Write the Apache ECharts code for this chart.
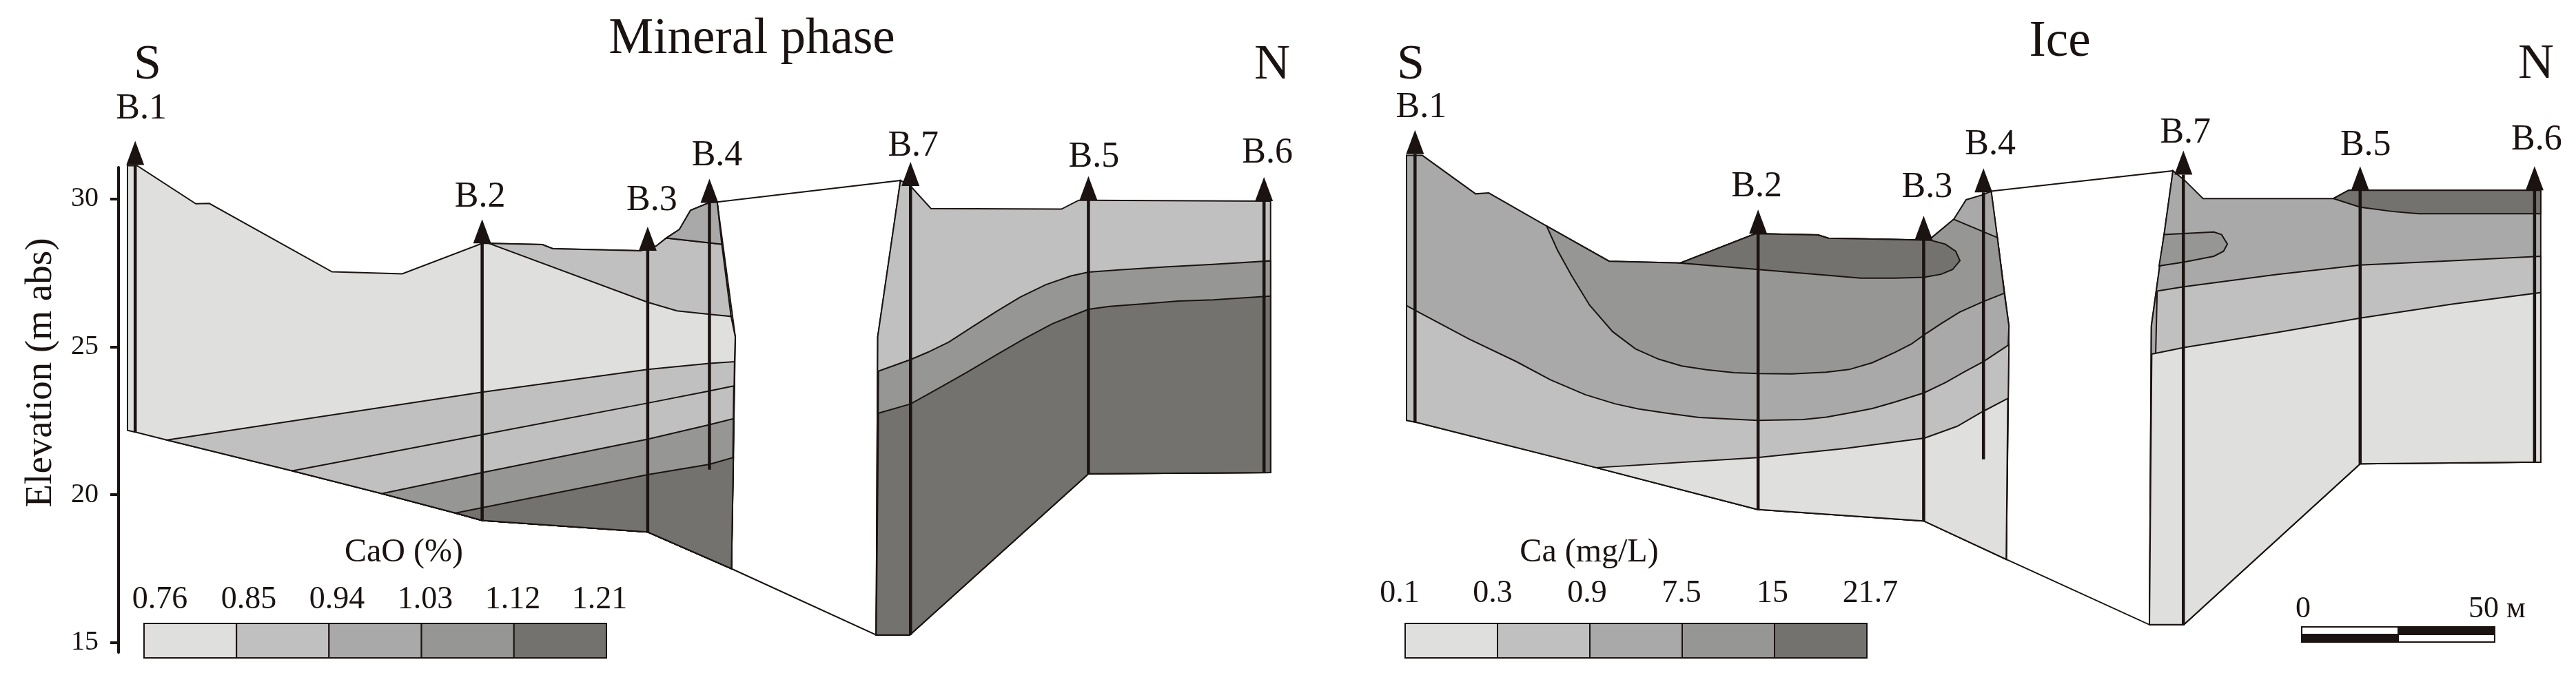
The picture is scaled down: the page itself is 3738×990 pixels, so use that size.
<!DOCTYPE html>
<html>
<head>
<meta charset="utf-8">
<title>Mineral phase / Ice</title>
<style>
  html, body { margin: 0; padding: 0; background: #fff; }
  #main { width: 3738px; height: 990px; }
</style>
<script src="https://cdn.jsdelivr.net/npm/echarts@6/dist/echarts.min.js"></script>
</head>
<body>
<div id="main"></div>
<script>
// all points are [distance along the section in m, elevation in m abs]
const yTicks = [15, 20, 25, 30];
const cao_ticks = ['0.76', '0.85', '0.94', '1.03', '1.12', '1.21'];
const ca_ticks = ['0.1', '0.3', '0.9', '7.5', '15', '21.7'];

// boreholes: name, distance, top, bottom
const boreholesMineral = [
  ['B.1', 2.0, 31.15, 22.10], ['B.2', 91.9, 28.50, 19.13], ['B.3', 134.8, 28.25, 18.74], ['B.4', 150.8, 29.87, 20.85],
  ['B.7', 202.9, 30.44, 15.26], ['B.5', 249.0, 29.96, 20.71], ['B.6', 294.5, 29.93, 20.75]
];
const boreholesIce = [
  ['B.1', 2.2, 31.19, 22.12], ['B.2', 91.1, 28.50, 19.18], ['B.3', 134.0, 28.29, 18.79], ['B.4', 149.5, 29.90, 20.87],
  ['B.7', 201.3, 30.50, 15.28], ['B.5', 247.1, 29.97, 20.72], ['B.6', 292.3, 29.97, 20.78]
];

// ---- Mineral phase, south block ----
const minS_surface = [[0, 31.13], [2.5, 31.13], [17.7, 29.84], [21.2, 29.85], [53.0, 27.54], [71.2, 27.47], [91.9, 28.50], [93.7, 28.50],
  [107.5, 28.46], [110.2, 28.32], [133.0, 28.25], [137.0, 28.41], [139.6, 28.68], [143.0, 28.97], [145.9, 29.62], [150.8, 29.88], [152.8, 29.90]];
const minS_edge = [[154.0, 28.47], [156.4, 26.03], [157.5, 25.34], [157.3, 24.50], [157.0, 21.26], [156.5, 17.50]];
const minS_bottom = [[0, 22.18], [2.6, 22.10], [10.2, 21.85], [42.7, 20.81], [65.9, 20.04], [85.0, 19.38], [91.9, 19.13], [134.8, 18.74], [156.5, 17.50]];
const minS_085top = [[93.7, 28.50], [107.5, 28.46], [110.2, 28.32], [133.0, 28.25], [137.0, 28.41], [139.6, 28.68], [154.0, 28.47]];
const minS_085base = [[93.7, 28.50], [134.8, 26.51], [142.4, 26.22], [150.8, 26.10], [156.4, 26.03]];
const minS_tip = [[139.6, 28.68], [143.0, 28.97], [145.9, 29.62], [150.8, 29.88], [152.8, 29.90], [154.0, 28.47]];
const minS_L1 = [[10.2, 21.85], [91.9, 23.47], [134.8, 24.24], [150.8, 24.44], [157.3, 24.50]];
const minS_L2 = [[42.7, 20.81], [91.9, 22.03], [134.8, 23.10], [150.8, 23.51], [157.1, 23.68]];
const minS_L3 = [[65.9, 20.04], [91.9, 20.75], [134.8, 21.88], [150.8, 22.37], [157.0, 22.57]];
const minS_L4 = [[85.0, 19.38], [91.9, 19.56], [134.8, 20.68], [150.8, 21.03], [157.0, 21.26]];

// ---- Mineral phase, north block ----
const minN_outline = [[200.3, 30.63], [202.9, 30.44], [208.2, 29.68], [242.0, 29.66], [246.5, 29.96], [249.0, 29.96], [296.2, 29.93],
  [296.2, 20.75], [249.0, 20.71], [202.7, 15.26], [194.0, 15.26], [194.4, 25.34]];
const minN_bottom = [[194.0, 15.26], [202.7, 15.26], [249.0, 20.71], [296.2, 20.75]];
const minN_U1 = [[194.6, 24.18], [202.9, 24.57], [207.4, 24.82], [212.8, 25.16], [218.8, 25.67], [225.3, 26.21], [231.3, 26.68], [237.9, 27.10], [244.5, 27.40], [249.0, 27.53],
  [257.6, 27.61], [269.5, 27.71], [281.3, 27.79], [296.2, 27.91]];
const minN_U2 = [[194.6, 22.76], [202.9, 23.07], [209.8, 23.57], [217.6, 24.15], [225.3, 24.74], [232.4, 25.28], [239.6, 25.78], [245.5, 26.09], [249.0, 26.27], [254.5, 26.37],
  [263.4, 26.46], [272.3, 26.55], [281.3, 26.59], [296.2, 26.72]];
const minGap = [[152.8, 29.90], [200.3, 30.63], [194.4, 25.34], [194.0, 15.26], [156.5, 17.50], [157.5, 25.34]];

// ---- Ice, south block ----
const iceS_surface = [[0, 31.15], [4.1, 31.15], [17.9, 29.85], [21.3, 29.88], [36.3, 28.76], [52.5, 27.57], [70.9, 27.51], [90.4, 28.50], [106.6, 28.46],
  [109.3, 28.35], [132.0, 28.29], [135.8, 28.34], [141.8, 28.99], [145.0, 29.65], [149.4, 29.82], [151.5, 29.94]];
const iceS_edge = [[153.1, 28.37], [154.9, 26.49], [156.1, 25.38], [155.9, 24.72], [155.7, 22.93], [155.4, 17.49]];
const iceS_bottom = [[0, 22.19], [2.7, 22.12], [49.2, 20.59], [90.9, 19.18], [134.0, 18.79], [155.4, 17.49]];
const iceS_band4top = [[36.3, 28.76], [52.5, 27.57], [70.9, 27.51], [90.4, 28.50], [106.6, 28.46], [109.3, 28.35], [132.0, 28.29], [135.8, 28.34], [141.8, 28.99], [153.1, 28.37], [154.9, 26.49]];
const iceS_band4base = [[36.3, 28.76], [39.1, 27.95], [42.7, 27.10], [47.4, 26.09], [53.4, 25.19], [59.3, 24.61], [65.3, 24.26], [71.3, 24.03], [77.8, 23.90], [84.9, 23.80], [91.2, 23.77],
  [99.8, 23.76], [108.8, 23.82], [114.7, 23.91], [120.7, 24.14], [126.6, 24.49], [130.8, 24.77], [134.1, 25.08], [138.5, 25.46], [143.3, 25.85], [149.3, 26.20], [154.9, 26.49]];
const iceS_lens = [[70.9, 27.51], [90.4, 28.50], [106.6, 28.46], [109.3, 28.35], [132.0, 28.29], [135.8, 28.28], [139.6, 28.15], [142.3, 27.91], [143.4, 27.59], [141.5, 27.29],
  [138.5, 27.13], [134.1, 27.03], [126.6, 27.00], [117.7, 27.00], [108.8, 27.10], [91.2, 27.29]];
const iceS_R3 = [[0, 26.07], [2.7, 25.88], [16.2, 24.94], [28.4, 24.18], [37.3, 23.56], [46.3, 23.06], [54.0, 22.75], [60.0, 22.58], [67.1, 22.44], [75.8, 22.29], [90.9, 22.19], [102.8, 22.22],
  [108.8, 22.30], [114.7, 22.44], [120.7, 22.59], [126.6, 22.81], [134.1, 23.12], [139.8, 23.48], [144.5, 23.83], [149.5, 24.18], [156.1, 24.75]];
const iceS_R4 = [[49.2, 20.59], [90.9, 20.93], [113.6, 21.24], [134.2, 21.59], [142.7, 21.99], [149.2, 22.48], [155.8, 22.93]];

// ---- Ice, north block ----
const iceN_outline = [[198.6, 30.63], [201.6, 30.31], [206.4, 29.69], [240.2, 29.69], [244.1, 29.97], [293.9, 29.97], [293.9, 20.78], [247.1, 20.72], [201.4, 15.28], [192.5, 15.28], [193.0, 25.38]];
const iceN_bottom = [[192.5, 15.28], [201.4, 15.28], [247.1, 20.72], [293.9, 20.78]];
const iceN_cap = [[240.2, 29.69], [244.1, 29.97], [293.9, 29.97], [293.9, 29.18], [262.3, 29.18], [255.7, 29.25], [247.1, 29.40]];
const iceN_V1 = [[194.5, 26.56], [201.4, 26.71], [225.4, 27.12], [247.1, 27.44], [270.9, 27.59], [293.9, 27.74]];
const iceN_V2 = [[193.1, 24.43], [201.4, 24.65], [225.4, 25.16], [247.1, 25.65], [270.9, 26.12], [293.9, 26.51]];
const iceN_lens = [[196.3, 28.47], [201.4, 28.51], [209.2, 28.56], [211.2, 28.47], [212.7, 28.15], [211.7, 27.91], [209.2, 27.74], [201.4, 27.54], [195.0, 27.41]];
const iceGap = [[151.5, 29.94], [198.6, 30.63], [193.0, 25.38], [192.5, 15.28], [155.4, 17.49], [156.1, 25.38]];

const shades = ['#dfdfde', '#c0c0c0', '#a9a9a9', '#969695', '#73726e'];
const ink = '#1a1311';
const serif = '"Liberation Serif", "DejaVu Serif", serif';

// everything under a boundary that starts on the bottom line
function under(line, bottom) {
  const start = line[0][0];
  const rest = bottom.filter(p => p[0] > start).reverse();
  return line.concat(rest);
}
// everything under a boundary that runs edge to edge
function span(line, bottom) {
  return line.concat(bottom.slice().reverse());
}

const mineralShapes = [
  { shade: -1, pts: minGap },
  { shade: 0, pts: minS_surface.concat(minS_edge, minS_bottom.slice().reverse()) },
  { shade: 1, pts: minS_085top.concat(minS_085base.slice().reverse()) },
  { shade: 2, pts: minS_tip },
  { shade: 1, pts: under(minS_L1, minS_bottom) },
  { shade: 1, pts: under(minS_L2, minS_bottom) },
  { shade: 3, pts: under(minS_L3, minS_bottom) },
  { shade: 4, pts: under(minS_L4, minS_bottom) },
  { shade: 1, pts: minN_outline },
  { shade: 3, pts: span(minN_U1, minN_bottom) },
  { shade: 4, pts: span(minN_U2, minN_bottom) }
];
const iceShapes = [
  { shade: -1, pts: iceGap },
  { shade: 2, pts: iceS_surface.concat(iceS_edge, iceS_bottom.slice().reverse()) },
  { shade: 3, pts: iceS_band4top.concat(iceS_band4base.slice().reverse()) },
  { shade: 4, pts: iceS_lens },
  { shade: 1, pts: span(iceS_R3, iceS_bottom) },
  { shade: 0, pts: under(iceS_R4, iceS_bottom) },
  { shade: 2, pts: iceN_outline },
  { shade: 1, pts: span(iceN_V1, iceN_bottom) },
  { shade: 0, pts: span(iceN_V2, iceN_bottom) },
  { shade: 3, pts: iceN_lens },
  { shade: 4, pts: iceN_cap }
];

// px nudges of the B.x labels from the arrow tip
const mineralNudge = [[9, -46], [-3, -32], [6, -38], [11, -33], [4, -23], [8, -27], [5, -35]];
const iceNudge = [[9, -33], [-2, -33], [5, -41], [10, -34], [3, -25], [8, -30], [3, -38]];

function sectionSeries(shapes, grid) {
  return {
    type: 'custom',
    xAxisIndex: grid,
    yAxisIndex: grid,
    silent: true,
    data: shapes.map(s => s.pts[0]),
    encode: { x: 0, y: 1 },
    renderItem: (params, api) => {
      const s = shapes[params.dataIndex];
      return {
        type: 'polygon',
        shape: { points: s.pts.map(p => api.coord(p)) },
        style: { fill: s.shade < 0 ? '#fff' : shades[s.shade], stroke: ink, lineWidth: 2 }
      };
    }
  };
}

function boreholeSeries(holes, nudge, grid) {
  return {
    type: 'custom',
    xAxisIndex: grid,
    yAxisIndex: grid,
    silent: true,
    data: holes.map(h => [h[1], h[2], h[3]]),
    encode: { x: 0, y: [1, 2] },
    renderItem: (params, api) => {
      const i = params.dataIndex;
      const top = api.coord([holes[i][1], holes[i][2]]);
      const bot = api.coord([holes[i][1], holes[i][3]]);
      const tipY = top[1] - 35;
      return {
        type: 'group',
        children: [
          { type: 'line', shape: { x1: top[0], y1: top[1], x2: bot[0], y2: bot[1] }, style: { stroke: ink, lineWidth: 4.5 } },
          { type: 'polygon', shape: { points: [[top[0], tipY], [top[0] - 13, top[1]], [top[0] + 13, top[1]]] }, style: { fill: ink } },
          { type: 'text', style: { text: holes[i][0], x: top[0] + nudge[i][0], y: tipY + nudge[i][1], align: 'center', verticalAlign: 'middle', font: '52px ' + serif, fill: ink } }
        ]
      };
    }
  };
}

function txt(text, x, y, size, align) {
  return { type: 'text', x: x, y: y, silent: true, style: { text: text, align: align || 'center', verticalAlign: 'middle', font: size + 'px ' + serif, fill: ink } };
}
function box(x, y, w, h, fill) {
  return { type: 'rect', silent: true, shape: { x: x, y: y, width: w, height: h }, style: { fill: fill, stroke: ink, lineWidth: 2 } };
}
function legendBar(x0, w) {
  return shades.map((c, i) => box(x0 + i * w, 905, w, 50, c));
}

const yName = txt('Elevation (m abs)', 60, 541, 55);
yName.rotation = Math.PI / 2;

const graphics = [
  yName,
  txt('S', 214, 95, 72), txt('N', 1846, 95, 72), txt('S', 2047, 95, 72), txt('N', 3680, 94, 72),
  txt('CaO (%)', 586, 802, 48), txt('Ca (mg/L)', 2306, 802, 48)
].concat(
  legendBar(209, 134.2),
  legendBar(2039, 134),
  [232, 361, 489, 617, 744, 870].map((x, i) => txt(cao_ticks[i], x, 871, 46)),
  [2031, 2166, 2303, 2440, 2572, 2714].map((x, i) => txt(ca_ticks[i], x, 862, 46)),
  [
    box(3340, 910, 140, 11, '#fff'), box(3480, 910, 140, 11, ink),
    box(3340, 921, 140, 11, ink), box(3480, 921, 140, 11, '#fff'),
    txt('0', 3342, 884, 44), txt('50 м', 3582, 884, 44, 'left')
  ]
);

const option = {
  animation: false,
  backgroundColor: '#fff',
  title: [
    { text: 'Mineral phase', left: 1086, top: 16, textAlign: 'center', textStyle: { fontFamily: serif, fontSize: 73, fontWeight: 'normal', color: ink } },
    { text: 'Ice', left: 2984, top: 20, textAlign: 'center', textStyle: { fontFamily: serif, fontSize: 73, fontWeight: 'normal', color: ink } }
  ],
  grid: [
    { left: 172, top: 243, width: 1693, height: 704 },
    { left: 2041, top: 229, width: 1680, height: 704 }
  ],
  xAxis: [
    { gridIndex: 0, type: 'value', min: -2.32, max: 300, show: false },
    { gridIndex: 1, type: 'value', min: 0, max: 300, show: false }
  ],
  yAxis: [
    {
      gridIndex: 0,
      type: 'value',
      min: 14.67,
      max: 31.07,
      splitLine: { show: false },
      axisLine: { show: true, onZero: false, lineStyle: { color: ink, width: 4 } },
      axisTick: { show: true, customValues: yTicks, length: 12, lineStyle: { color: ink, width: 4 } },
      axisLabel: { customValues: yTicks, margin: 29, fontFamily: serif, fontSize: 40, color: ink }
    },
    { gridIndex: 1, type: 'value', min: 14.67, max: 31.07, show: false }
  ],
  series: [
    sectionSeries(mineralShapes, 0),
    boreholeSeries(boreholesMineral, mineralNudge, 0),
    sectionSeries(iceShapes, 1),
    boreholeSeries(boreholesIce, iceNudge, 1)
  ],
  graphic: graphics
};

const myChart = echarts.init(document.getElementById('main'));
myChart.setOption(option);
</script>
</body>
</html>
